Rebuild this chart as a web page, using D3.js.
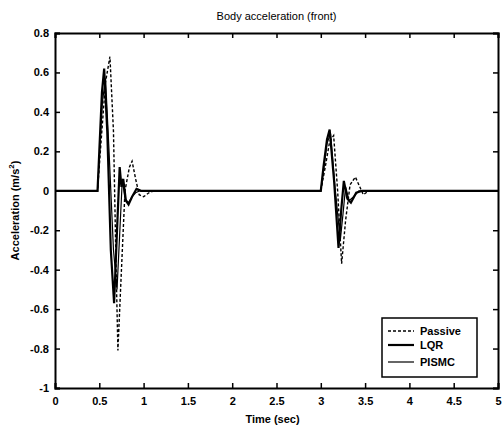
<!DOCTYPE html>
<html lang="en">
<head>
  <meta charset="UTF-8">
  <script src="https://d3js.org/d3.v7.min.js"></script>
  <title>Body acceleration (front)</title>
  <style>
    body { margin: 0; background: #fff; }
    text { font-family: "Liberation Sans", Arial, sans-serif; fill: #000; }
  </style>
</head>
<body>
<div id="chart"></div>
<script>

// time (s) / acceleration (m/s^2)
var passiveT = [0, 0.48, 0.52, 0.57, 0.62, 0.66, 0.69, 0.71, 0.74, 0.79, 0.84, 0.87, 0.91, 0.95, 1.0, 1.06, 1.12,
                3.0, 3.05, 3.1, 3.145, 3.19, 3.235, 3.28, 3.33, 3.39, 3.44, 3.48, 3.54, 5];
var passiveV = [0, 0, 0.25, 0.55, 0.68, 0.3, -0.4, -0.81, -0.5, 0, 0.12, 0.15, 0.06, -0.02, -0.03, -0.01, 0,
                0, 0.12, 0.25, 0.28, 0.0, -0.37, -0.15, 0.03, 0.07, 0.02, -0.02, 0, 0];

var lqrT = [0, 0.48, 0.5, 0.53, 0.555, 0.59, 0.63, 0.667, 0.7, 0.73, 0.75, 0.77, 0.8, 0.83, 0.87, 0.92, 0.97,
            3.0, 3.03, 3.07, 3.1, 3.15, 3.2, 3.23, 3.26, 3.3, 3.34, 3.4, 3.47, 5];
var lqrV = [0, 0, 0.2, 0.5, 0.62, 0.3, -0.3, -0.57, -0.2, 0.12, 0.02, 0.06, -0.05, -0.07, -0.03, 0.01, 0,
            0, 0.12, 0.26, 0.31, 0.05, -0.29, -0.1, 0.05, -0.04, -0.06, -0.01, 0, 0];

var pismcT = [0, 0.48, 0.5, 0.535, 0.57, 0.61, 0.66, 0.7, 0.73, 0.76, 0.79, 0.83, 0.87, 0.91, 0.96,
              3.0, 3.03, 3.07, 3.11, 3.16, 3.22, 3.25, 3.28, 3.32, 3.37, 3.43, 5];
var pismcV = [0, 0, 0.16, 0.45, 0.57, 0.2, -0.3, -0.5, -0.22, 0.06, -0.04, -0.06, -0.03, -0.01, 0,
              0, 0.1, 0.24, 0.29, 0.02, -0.25, -0.12, 0.02, -0.05, -0.03, 0, 0];

var xTicks = [0, 0.5, 1, 1.5, 2, 2.5, 3, 3.5, 4, 4.5, 5];
var yTicks = [0.8, 0.6, 0.4, 0.2, 0, -0.2, -0.4, -0.6, -0.8, -1];
var legendNames = ["Passive", "LQR", "PISMC"];

var W = 502, H = 432;
var margin = {top: 33, right: 4, bottom: 44, left: 55};
var width = W - margin.left - margin.right,
    height = H - margin.top - margin.bottom;

var svg = d3.select("#chart").append("svg")
    .attr("width", W)
    .attr("height", H);

var g = svg.append("g")
    .attr("transform", "translate(" + margin.left + "," + margin.top + ")");

var x = d3.scaleLinear().domain([0, 5]).range([0, width]);
var y = d3.scaleLinear().domain([-1, 0.8]).range([height, 0]);

function fmt(d) { return d === 0 ? "0" : String(d); }

// axes, matlab style: ticks pointing inwards, box all round
var xAxis = g.append("g")
  .attr("transform", "translate(0," + height + ")")
  .call(d3.axisBottom(x).tickValues(xTicks).tickSize(-5).tickPadding(9).tickFormat(fmt));
var xTop = g.append("g")
  .call(d3.axisTop(x).tickValues(xTicks).tickSize(-5).tickFormat(""));
var yAxis = g.append("g")
  .call(d3.axisLeft(y).tickValues(yTicks).tickSize(-5).tickPadding(6).tickFormat(fmt));
var yRight = g.append("g")
  .attr("transform", "translate(" + width + ",0)")
  .call(d3.axisRight(y).tickValues(yTicks).tickSize(-5).tickFormat(""));

[xAxis, xTop, yAxis, yRight].forEach(function(a) {
  a.select(".domain").attr("stroke", "#000").attr("stroke-width", 2);
  a.selectAll(".tick line").attr("stroke", "#000").attr("stroke-width", 1.5);
  a.selectAll("text")
    .style("font-family", "Liberation Sans, Arial, sans-serif")
    .style("font-size", "11px")
    .style("font-weight", "bold")
    .attr("fill", "#000");
});

// the curves
var line = d3.line()
  .x(function(d) { return x(d[0]); })
  .y(function(d) { return y(d[1]); });

function pairs(t, v) { return t.map(function(d, i) { return [d, v[i]]; }); }

g.append("path")
  .datum(pairs(pismcT, pismcV))
  .attr("fill", "none")
  .attr("stroke", "#000")
  .attr("stroke-width", 1.2)
  .attr("d", line);

g.append("path")
  .datum(pairs(lqrT, lqrV))
  .attr("fill", "none")
  .attr("stroke", "#000")
  .attr("stroke-width", 2.2)
  .attr("d", line);

g.append("path")
  .datum(pairs(passiveT, passiveV))
  .attr("fill", "none")
  .attr("stroke", "#000")
  .attr("stroke-width", 1.4)
  .attr("stroke-dasharray", "3,2")
  .attr("d", line);

// legend
var leg = g.append("g").attr("transform", "translate(" + (382 - margin.left) + "," + (318 - margin.top) + ")");
leg.append("rect")
  .attr("width", 95).attr("height", 59)
  .attr("fill", "#fff").attr("stroke", "#000").attr("stroke-width", 1.5);

var legStyle = [
  {w: 1.4, dash: "3,2"},
  {w: 2.2, dash: null},
  {w: 1.2, dash: null}
];
var legY = [13, 27, 44];
legendNames.forEach(function(name, i) {
  leg.append("line")
    .attr("x1", 6).attr("x2", 32)
    .attr("y1", legY[i]).attr("y2", legY[i])
    .attr("stroke", "#000")
    .attr("stroke-width", legStyle[i].w)
    .attr("stroke-dasharray", legStyle[i].dash);
  leg.append("text")
    .attr("x", 38).attr("y", legY[i] + 4)
    .style("font-size", "11px")
    .style("font-weight", "bold")
    .text(name);
});

// title and axis labels
svg.append("text")
  .attr("x", margin.left + width / 2).attr("y", 20)
  .attr("text-anchor", "middle")
  .style("font-size", "11px")
  .text("Body acceleration (front)");

svg.append("text")
  .attr("x", margin.left + width / 2 - 4).attr("y", 423)
  .attr("text-anchor", "middle")
  .style("font-size", "11px")
  .style("font-weight", "bold")
  .text("Time  (sec)");

var yl = svg.append("text")
  .attr("transform", "translate(19," + (margin.top + height / 2) + ") rotate(-90)")
  .attr("text-anchor", "middle")
  .style("font-size", "11px")
  .style("font-weight", "bold");
yl.append("tspan").text("Acceleration  (m/s");
yl.append("tspan").attr("dy", -5).style("font-size", "8px").text("2");
yl.append("tspan").attr("dy", 5).text(")");

</script>
</body>
</html>
